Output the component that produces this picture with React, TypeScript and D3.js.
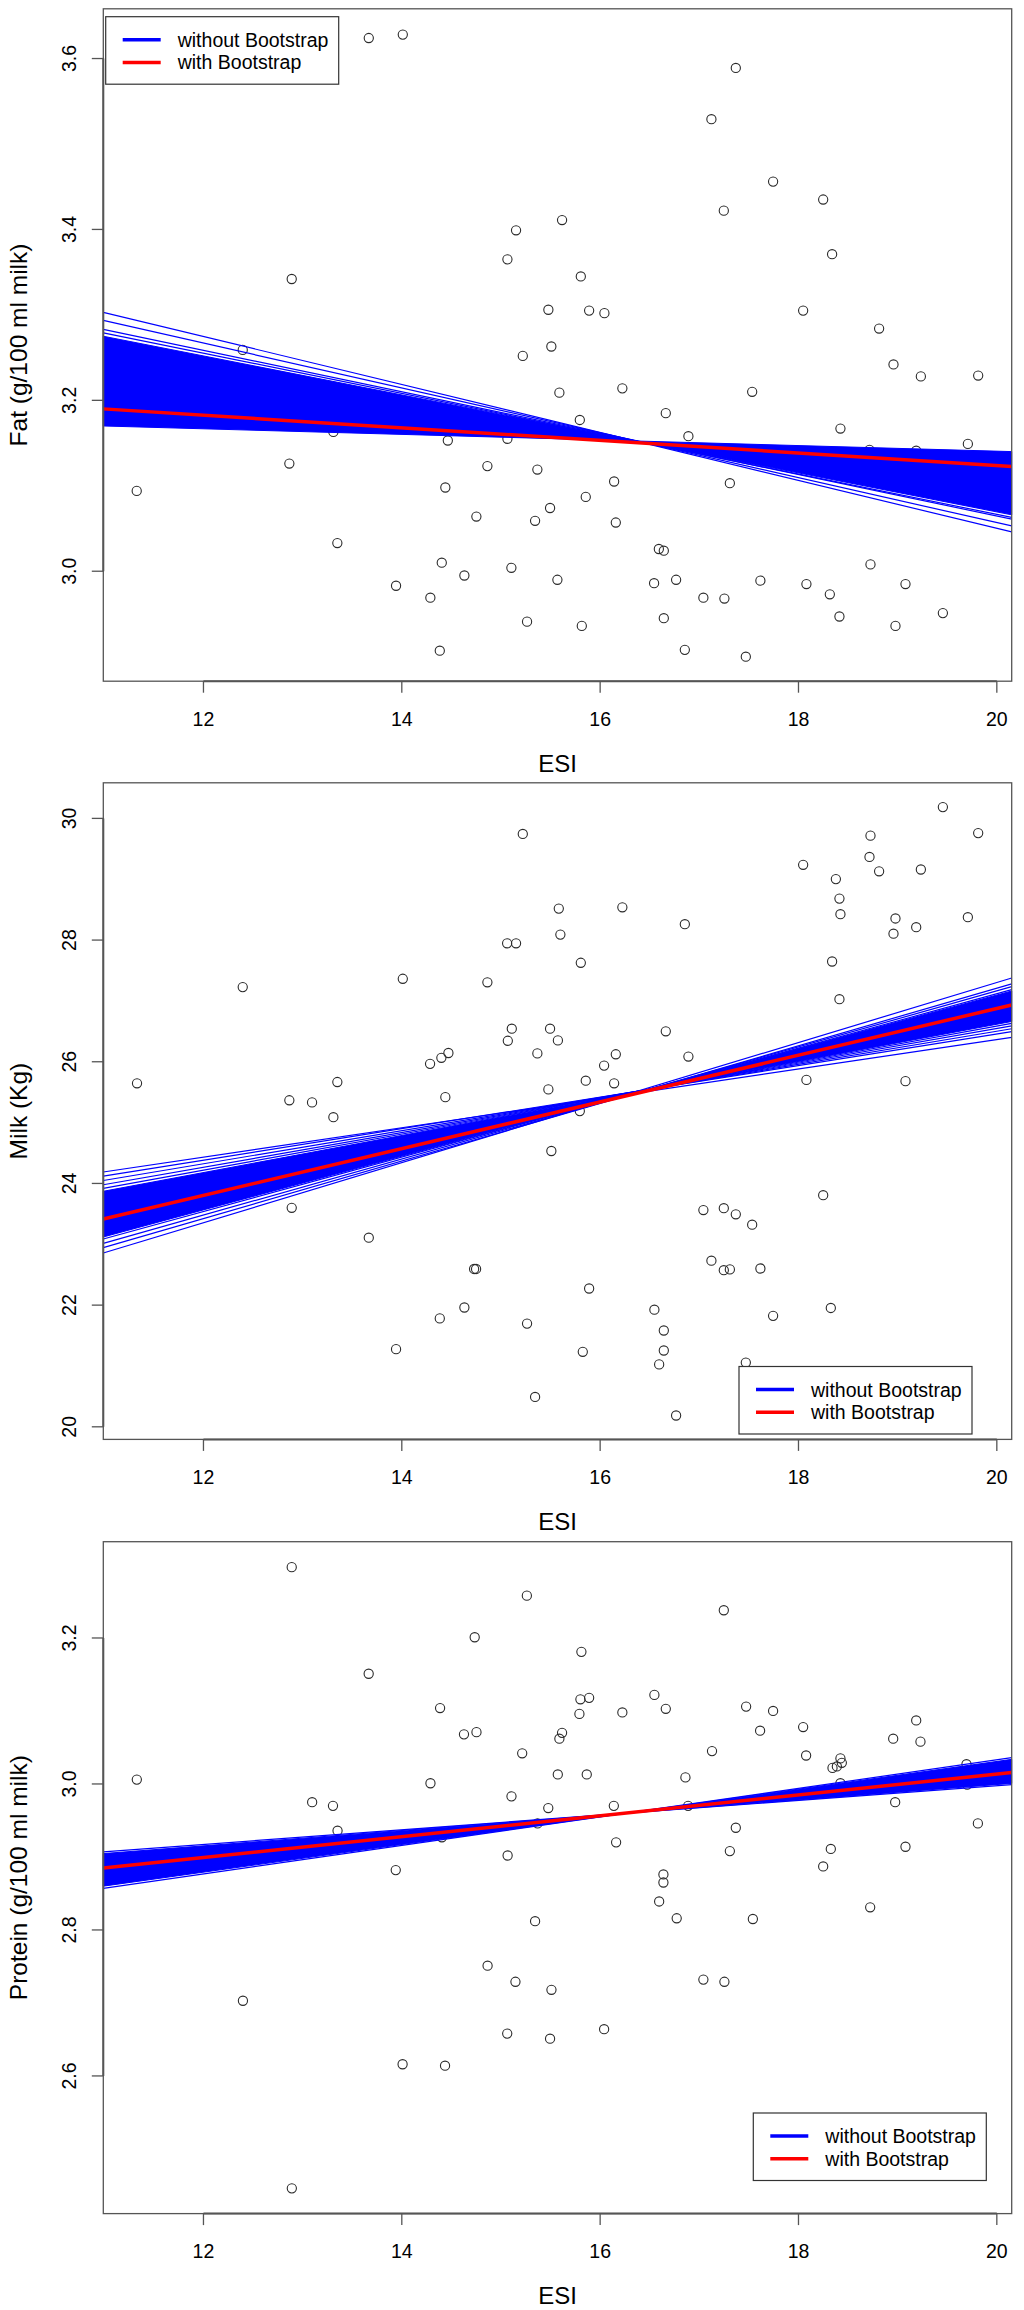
import * as d3 from "d3";

// ESI axis shared by the three panels
const esiDomain = [10.99, 20.15];
const esiTicks = [12, 14, 16, 18, 20];

// Fat panel
const fatEsi = [
  13.667, 14.01, 15.152, 15.065, 12.89, 15.478, 15.508, 15.22, 15.589, 12.396, 15.616, 13.31,
  14.464, 15.065, 12.866, 14.863, 15.367, 11.327, 14.439, 15.495, 14.752, 15.344, 13.35, 14.403,
  15.105, 14.631, 15.569, 13.942, 14.288, 15.263, 14.383, 17.368, 17.122, 17.744, 18.249, 17.247,
  18.339, 15.805, 15.889, 16.043, 18.047, 18.813, 18.958, 19.234, 19.812, 16.224, 17.533, 15.795,
  16.662, 16.89, 18.423, 19.708, 18.716, 19.187, 16.141, 17.308, 15.855, 16.158, 16.592, 16.642,
  18.726, 16.544, 16.766, 17.616, 18.08, 19.079, 17.041, 17.253, 18.316, 15.815, 16.642, 18.413,
  19.456, 18.978, 16.854, 17.469
];
const fatValues = [
  3.624, 3.628, 3.399, 3.365, 3.342, 3.306, 3.263, 3.252, 3.209, 3.259, 3.411, 3.163,
  3.153, 3.155, 3.126, 3.123, 3.119, 3.094, 3.098, 3.074, 3.064, 3.059, 3.033, 3.01,
  3.004, 2.995, 2.99, 2.983, 2.969, 2.941, 2.907, 3.589, 3.529, 3.456, 3.435, 3.422,
  3.371, 3.345, 3.305, 3.302, 3.305, 3.284, 3.242, 3.228, 3.229, 3.214, 3.21, 3.177,
  3.185, 3.158, 3.167, 3.149, 3.142, 3.141, 3.105, 3.103, 3.087, 3.057, 3.026, 3.024,
  3.008, 2.986, 2.99, 2.989, 2.985, 2.985, 2.969, 2.968, 2.973, 2.936, 2.945, 2.947,
  2.951, 2.936, 2.908, 2.9
];
const fatTicks = [3.0, 3.2, 3.4, 3.6];
// dense bootstrap band: [steep edge, flat edge], values at left / right plot edge
const fatBandLeft = [3.275, 3.17];
const fatBandRight = [3.066, 3.14];
const fatBootLeft = [3.303, 3.2935, 3.283, 3.279];
const fatBootRight = [3.046, 3.053, 3.061, 3.063];
const fatFit = [3.19, 3.1226];

// Milk panel
const milkEsi = [
  15.22, 15.583, 15.599, 15.062, 15.152, 12.396, 14.01, 14.863, 15.109, 15.069, 15.495, 15.574,
  15.367, 14.285, 14.399, 14.47, 11.33, 13.35, 12.866, 13.095, 13.31, 14.439, 15.478, 15.508,
  12.89, 13.667, 14.729, 14.749, 14.631, 14.383, 15.263, 13.942, 15.344, 19.456, 19.812, 18.726,
  18.716, 18.813, 19.234, 18.047, 18.377, 18.413, 18.423, 18.978, 18.958, 19.187, 19.708, 16.224,
  16.854, 15.805, 18.339, 18.413, 16.662, 16.89, 16.04, 16.158, 15.855, 16.141, 15.795, 18.08,
  19.079, 18.249, 17.041, 17.247, 17.368, 17.533, 17.122, 17.247, 17.308, 17.616, 15.889, 16.547,
  16.642, 16.642, 16.595, 15.825, 17.744, 18.326, 17.469, 16.766
];
const milkValues = [
  29.744, 28.517, 28.09, 27.947, 27.947, 27.227, 27.364, 27.306, 26.543, 26.345, 26.543, 26.351,
  26.137, 25.966, 26.065, 26.144, 25.646, 25.667, 25.367, 25.332, 25.089, 25.418, 25.546, 24.533,
  23.6, 23.108, 22.594, 22.594, 21.961, 21.782, 21.696, 21.276, 20.491, 30.186, 29.758, 29.716,
  29.366, 29.13, 29.16, 29.237, 29.002, 28.682, 28.425, 28.355, 28.105, 28.212, 28.376, 28.539,
  28.261, 27.627, 27.648, 27.028, 26.501, 26.086, 25.937, 26.123, 25.689, 25.646, 25.189, 25.702,
  25.681, 23.807, 23.563, 23.593, 23.493, 23.322, 22.73, 22.574, 22.587, 22.602, 22.273, 21.925,
  21.583, 21.254, 21.026, 21.233, 21.824, 21.953, 21.055, 20.186
];
const milkTicks = [20, 22, 24, 26, 28, 30];
const milkBandLeft = [23.12, 23.871];
const milkBandRight = [27.163, 26.662];
const milkBootLeft = [24.188, 24.121, 24.048, 23.978, 23.92, 23.087, 23.015, 22.944, 22.857];
const milkBootRight = [26.4, 26.494, 26.543, 26.591, 26.63, 27.186, 27.234, 27.281, 27.377];
const milkFit = [23.416, 26.933];

// Protein panel
const proteinEsi = [
  11.328, 12.398, 12.891, 13.096, 13.306, 13.352, 13.666, 13.939, 14.008, 14.289, 14.386, 14.404,
  14.436, 14.627, 14.753, 14.735, 14.865, 15.067, 15.063, 15.106, 15.146, 15.214, 15.344, 15.477,
  15.509, 15.495, 15.573, 15.589, 15.616, 15.261, 15.369, 12.89, 17.247, 15.811, 16.547, 16.662,
  15.801, 15.889, 15.791, 16.224, 17.472, 17.744, 17.613, 18.047, 19.187, 18.955, 19.23, 17.128,
  18.077, 15.865, 16.86, 18.343, 18.387, 18.423, 18.437, 19.694, 18.423, 19.701, 16.138, 16.887,
  18.975, 19.809, 17.368, 16.161, 17.308, 18.326, 19.079, 18.249, 16.638, 16.638, 16.595, 16.772,
  17.54, 18.723, 17.041, 17.253, 16.04
];
const proteinValues = [
  3.006, 2.703, 2.446, 2.975, 2.97, 2.936, 3.151, 2.882, 2.616, 3.001, 3.104, 2.927,
  2.614, 3.068, 3.071, 3.201, 2.751, 2.902, 2.658, 2.983, 2.729, 3.042, 2.812, 2.967,
  2.718, 2.651, 3.013, 3.062, 3.07, 3.258, 2.946, 3.297, 3.238, 3.181, 3.122, 3.103,
  3.116, 3.118, 3.096, 3.098, 3.106, 3.1, 3.073, 3.078, 3.087, 3.062, 3.058, 3.045,
  3.039, 3.013, 3.009, 3.022, 3.024, 3.035, 3.029, 3.027, 3.001, 2.999, 2.97, 2.97,
  2.975, 2.946, 2.94, 2.92, 2.908, 2.911, 2.914, 2.887, 2.876, 2.865, 2.839, 2.816,
  2.815, 2.831, 2.732, 2.729, 2.664
];
const proteinTicks = [2.6, 2.8, 3.0, 3.2];
const proteinBandLeft = [2.86, 2.9046];
const proteinBandRight = [3.0337, 3.0008];
const proteinBootLeft = [2.857, 2.907];
const proteinBootRight = [3.036, 2.999];
const proteinFit = [2.8848, 3.0157];

const legendLabels = ["without Bootstrap", "with Bootstrap"];
const legendColors = ["#0000ff", "#ff0000"];

const FONT = "'Liberation Sans', Arial, Helvetica, sans-serif";
const LEFT = 103.3;
const RIGHT = 1011.7;

type PanelProps = {
  top: number;
  bottom: number;
  yDomain: number[];
  yTicks: number[];
  yLabel: string;
  esi: number[];
  values: number[];
  bandLeft: number[];
  bandRight: number[];
  bootLeft: number[];
  bootRight: number[];
  fit: number[];
  legend: { x: number; y: number };
};

function Panel(p: PanelProps) {
  const x = d3.scaleLinear().domain(esiDomain).range([LEFT, RIGHT]);
  const y = d3.scaleLinear().domain(p.yDomain).range([p.bottom, p.top]);
  const x0 = x(esiDomain[0]);
  const x1 = x(esiDomain[1]);
  const line = d3.line<[number, number]>().x((d) => x(d[0])).y((d) => y(d[1]));

  // bow-tie shaped dense region of the bootstrap fits
  const band = [
    [x0, y(p.bandLeft[0])],
    [x1, y(p.bandRight[0])],
    [x1, y(p.bandRight[1])],
    [x0, y(p.bandLeft[1])]
  ]
    .map((pt) => pt.join(","))
    .join(" ");

  const midX = (LEFT + RIGHT) / 2;
  const midY = (p.top + p.bottom) / 2;
  const fmtY = (v: number) => (p.yDomain[1] > 10 ? String(v) : v.toFixed(1));

  return (
    <g>
      {p.esi.map((e, i) => (
        <circle key={i} cx={x(e)} cy={y(p.values[i])} r={4.6} fill="none" stroke="#2a2a2a" strokeWidth={1.1} />
      ))}

      <polygon points={band} fill="#0000ff" stroke="#0000ff" strokeWidth={1} strokeLinejoin="round" />
      {p.bootLeft.map((l, i) => (
        <path
          key={i}
          d={line([
            [esiDomain[0], l],
            [esiDomain[1], p.bootRight[i]]
          ]) as string}
          stroke="#0000ff"
          strokeWidth={1.2}
          fill="none"
        />
      ))}
      <path
        d={line([
          [esiDomain[0], p.fit[0]],
          [esiDomain[1], p.fit[1]]
        ]) as string}
        stroke="#ff0000"
        strokeWidth={3.5}
        fill="none"
      />

      <rect x={LEFT} y={p.top} width={RIGHT - LEFT} height={p.bottom - p.top} fill="none" stroke="#555" strokeWidth={1.3} />

      <line x1={x(esiTicks[0])} x2={x(esiTicks[esiTicks.length - 1])} y1={p.bottom} y2={p.bottom} stroke="#555" strokeWidth={2} />
      {esiTicks.map((t) => (
        <g key={t}>
          <line x1={x(t)} x2={x(t)} y1={p.bottom} y2={p.bottom + 11.5} stroke="#555" strokeWidth={1.3} />
          <text x={x(t)} y={p.bottom + 44.5} textAnchor="middle" fontSize={19.5} fontFamily={FONT} fill="#000">
            {t}
          </text>
        </g>
      ))}
      <text x={midX} y={p.bottom + 90.5} textAnchor="middle" fontSize={24} fontFamily={FONT} fill="#000">
        ESI
      </text>

      <line
        x1={LEFT}
        x2={LEFT}
        y1={y(p.yTicks[0])}
        y2={y(p.yTicks[p.yTicks.length - 1])}
        stroke="#555"
        strokeWidth={2}
      />
      {p.yTicks.map((t) => (
        <g key={t}>
          <line x1={LEFT - 11.5} x2={LEFT} y1={y(t)} y2={y(t)} stroke="#555" strokeWidth={1.3} />
          <text
            transform={`translate(76,${y(t)}) rotate(-90)`}
            textAnchor="middle"
            fontSize={19.5}
            fontFamily={FONT}
            fill="#000"
          >
            {fmtY(t)}
          </text>
        </g>
      ))}
      <text
        transform={`translate(26.6,${midY}) rotate(-90)`}
        textAnchor="middle"
        fontSize={24.5}
        fontFamily={FONT}
        fill="#000"
      >
        {p.yLabel}
      </text>

      <g transform={`translate(${p.legend.x},${p.legend.y})`}>
        <rect x={0} y={0} width={233} height={67.5} fill="#fff" stroke="#333" strokeWidth={1.2} />
        {legendLabels.map((lab, i) => (
          <g key={lab}>
            <line x1={17} x2={55} y1={23 + i * 22.8} y2={23 + i * 22.8} stroke={legendColors[i]} strokeWidth={3.5} />
            <text x={72} y={30 + i * 22.8} fontSize={19.5} fontFamily={FONT} fill="#000">
              {lab}
            </text>
          </g>
        ))}
      </g>
    </g>
  );
}

export default function App() {
  return (
    <svg
      width={1024}
      height={2310}
      viewBox="0 0 1024 2310"
      style={{ position: "absolute", left: 0, top: 0, display: "block", background: "#fff" }}
    >
      <rect x={0} y={0} width={1024} height={2310} fill="#fff" />
      <Panel
        top={8.8}
        bottom={681.2}
        yDomain={[2.8713, 3.6582]}
        yTicks={fatTicks}
        yLabel="Fat (g/100 ml milk)"
        esi={fatEsi}
        values={fatValues}
        bandLeft={fatBandLeft}
        bandRight={fatBandRight}
        bootLeft={fatBootLeft}
        bootRight={fatBootRight}
        fit={fatFit}
        legend={{ x: 105.7, y: 16.7 }}
      />
      <Panel
        top={782.8}
        bottom={1439.4}
        yDomain={[19.793, 30.585]}
        yTicks={milkTicks}
        yLabel="Milk (Kg)"
        esi={milkEsi}
        values={milkValues}
        bandLeft={milkBandLeft}
        bandRight={milkBandRight}
        bootLeft={milkBootLeft}
        bootRight={milkBootRight}
        fit={milkFit}
        legend={{ x: 739, y: 1366.5 }}
      />
      <Panel
        top={1541.7}
        bottom={2213.6}
        yDomain={[2.4114, 3.3319]}
        yTicks={proteinTicks}
        yLabel="Protein (g/100 ml milk)"
        esi={proteinEsi}
        values={proteinValues}
        bandLeft={proteinBandLeft}
        bandRight={proteinBandRight}
        bootLeft={proteinBootLeft}
        bootRight={proteinBootRight}
        fit={proteinFit}
        legend={{ x: 753.3, y: 2113 }}
      />
    </svg>
  );
}
